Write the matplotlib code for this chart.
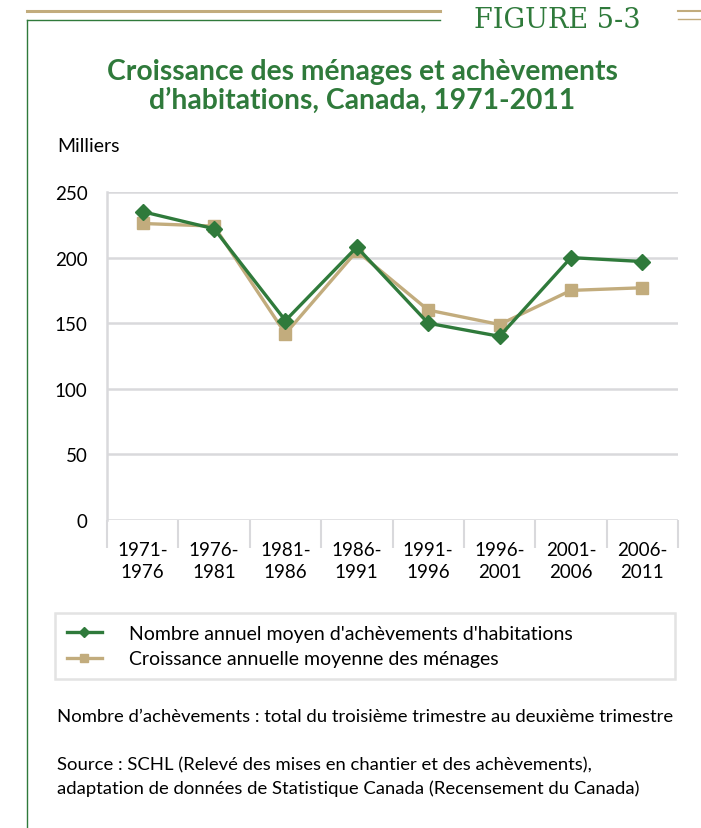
import matplotlib.pyplot as plt
from matplotlib.lines import Line2D

plt.rcParams['font.family'] = ['Lato', 'DejaVu Sans']

periods = ['1971-\n1976', '1976-\n1981', '1981-\n1986', '1986-\n1991',
           '1991-\n1996', '1996-\n2001', '2001-\n2006', '2006-\n2011']
completions = [235, 222, 152, 208, 150, 140, 200, 197]
households = [226, 224, 142, 205, 160, 149, 175, 177]
yticks = [0, 50, 100, 150, 200, 250]

green = '#2f7a3b'
tan = '#c2ac7d'
grid = '#d9d9dc'

fig = plt.figure(figsize=(7.01, 8.29), dpi=100)

# page decoration: header rules and left border
fig.add_artist(Line2D([27/701, 440/701], [1-12/829, 1-12/829], color=tan, lw=2.2))
fig.add_artist(Line2D([27/701, 440/701], [1-21/829, 1-21/829], color=green, lw=1.0))
fig.add_artist(Line2D([27/701, 27/701], [1-21/829, 0], color=green, lw=1.0))
fig.add_artist(Line2D([678/701, 1], [1-12/829, 1-12/829], color=tan, lw=1.5))
fig.add_artist(Line2D([678/701, 1], [1-20/829, 1-20/829], color=tan, lw=1.0))
fig.text(557/701, 1-20/829, 'FIGURE 5-3', family='DejaVu Serif', color=green,
         fontsize=19.5, ha='center', va='center')

fig.text(362/701, 1-72/829, 'Croissance des ménages et achèvements',
         color=green, fontsize=20.3, fontweight='bold', ha='center', va='center')
fig.text(362/701, 1-101/829, 'd’habitations, Canada, 1971-2011',
         color=green, fontsize=20.3, fontweight='bold', ha='center', va='center')
fig.text(57/701, 1-146/829, 'Milliers', fontsize=14, ha='left', va='center')

ax = fig.add_axes([107/701, 1-521/829, (678-107)/701, (521-193)/829])
x = range(len(periods))
ax.plot(x, households, color=tan, lw=2.4, marker='s', ms=8.5, clip_on=False,
        label='Croissance annuelle moyenne des ménages', zorder=3)
ax.plot(x, completions, color=green, lw=2.4, marker='D', ms=8, clip_on=False,
        label="Nombre annuel moyen d'achèvements d'habitations", zorder=4)

ax.set_xlim(-0.5, len(periods) - 0.5)
ax.set_ylim(0, 250)
ax.set_yticks(yticks)
ax.yaxis.grid(True, color=grid, lw=1.8)
ax.set_axisbelow(True)
ax.tick_params(axis='y', length=0, labelsize=13.5, pad=14)
ax.set_xticks([i - 0.5 for i in range(len(periods) + 1)])
ax.set_xticklabels([])
ax.set_xticks(list(x), minor=True)
ax.set_xticklabels(periods, minor=True, fontsize=13.5, linespacing=1.35)
ax.tick_params(axis='x', which='major', length=20, width=1.5, color=grid)
ax.tick_params(axis='x', which='minor', length=0, pad=15)
for s in ['top', 'right', 'bottom']:
    ax.spines[s].set_visible(False)
ax.spines['left'].set_color(grid)
ax.spines['left'].set_linewidth(1.8)

h, l = ax.get_legend_handles_labels()
leg = fig.legend(h[::-1], l[::-1], loc='lower left', mode='expand',
                 bbox_to_anchor=(55/701, 1-680/829, 620/701, 68/829),
                 fontsize=14, frameon=True, fancybox=False, handlelength=1.8,
                 borderpad=0.6, labelspacing=0.45, handletextpad=1.4,
                 borderaxespad=0, markerscale=0.65)
leg.get_frame().set_edgecolor('#dcdcdc')
leg.get_frame().set_linewidth(1.8)

fig.text(57/701, 1-717/829,
         'Nombre d’achèvements : total du troisième trimestre au deuxième trimestre',
         fontsize=13.3, ha='left', va='center')
fig.text(57/701, 1-765/829,
         'Source : SCHL (Relevé des mises en chantier et des achèvements),',
         fontsize=13.3, ha='left', va='center')
fig.text(57/701, 1-789/829,
         'adaptation de données de Statistique Canada (Recensement du Canada)',
         fontsize=13.3, ha='left', va='center')

fig.savefig('out.png', dpi=100)
